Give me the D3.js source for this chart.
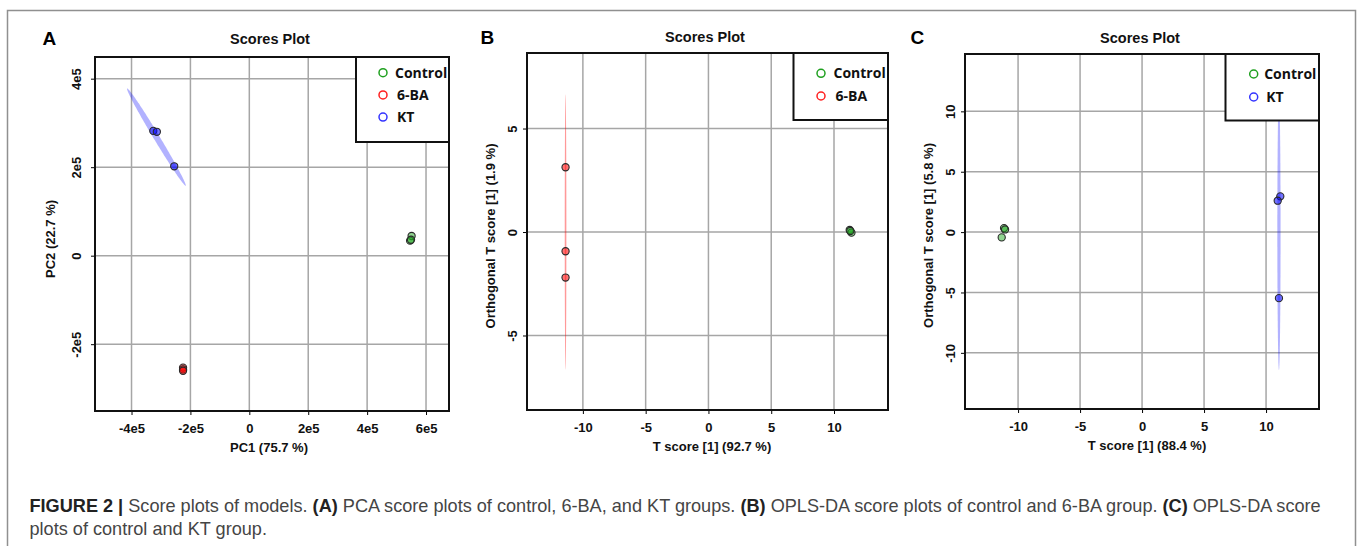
<!DOCTYPE html>
<html>
<head>
<meta charset="utf-8">
<script src="https://d3js.org/d3.v7.min.js"></script>
<style>
  html, body { margin: 0; padding: 0; background: #fff; }
  svg { display: block; }
</style>
</head>
<body>
<svg id="chart" width="1358" height="546"></svg>
<script>
// ---- data ----
const groupNames = ['Control', '6-BA', 'KT'];

// (A) PCA scores
const pcaPC1 = [5.51e5, 5.46e5, 5.49e5, -2.25e5, -2.25e5, -2.25e5, -3.26e5, -3.14e5, -2.55e5];
const pcaPC2 = [0.445e5, 0.34e5, 0.36e5, -2.53e5, -2.57e5, -2.60e5, 2.82e5, 2.80e5, 2.02e5];
const pcaGroup = ['Control', 'Control', 'Control', '6-BA', '6-BA', '6-BA', 'KT', 'KT', 'KT'];
const pcaXDomain = [-5.24e5, 6.78e5];
const pcaYDomain = [-3.51e5, 4.49e5];
const pcaXTicks = [-4e5, -2e5, 0, 2e5, 4e5, 6e5];
const pcaXTickLabels = ['-4e5', '-2e5', '0', '2e5', '4e5', '6e5'];
const pcaYTicks = [-2e5, 0, 2e5, 4e5];
const pcaYTickLabels = ['-2e5', '0', '2e5', '4e5'];
// KT confidence ellipse: centre, half major axis, half minor axis (data units)
const pcaKtEllipseCenter = [-3.155e5, 2.68e5];
const pcaKtEllipseMajor = [0.995e5, -1.1e5];
const pcaKtEllipseMinor = [8.7e3, 3.5e3];

// (B) OPLS-DA Control vs 6-BA
const baT = [11.25, 11.39, 11.3, -11.38, -11.38, -11.38];
const baOrtho = [0.1, -0.03, 0.05, 3.13, -0.93, -2.2];
const baGroup = ['Control', 'Control', 'Control', '6-BA', '6-BA', '6-BA'];
const baXDomain = [-14.45, 14.3];
const baYDomain = [-8.6, 8.65];
const baXTicks = [-10, -5, 0, 5, 10];
const baYTicks = [-5, 0, 5];
const baEllipseCenter = [-11.38, 0];
const baEllipseMajor = [0, 6.65];
const baEllipseMinor = [0.065, 0];

// (C) OPLS-DA Control vs KT
const ktT = [-11.13, -11.05, -11.32, 11.15, 10.94, 11.04];
const ktOrtho = [0.33, 0.22, -0.44, 2.96, 2.6, -5.47];
const ktGroup = ['Control', 'Control', 'Control', 'KT', 'KT', 'KT'];
const ktXDomain = [-14.28, 14.27];
const ktYDomain = [-14.65, 14.75];
const ktXTicks = [-10, -5, 0, 5, 10];
const ktYTicks = [-10, -5, 0, 5, 10];
const ktEllipseCenter = [11.04, 0.03];
const ktEllipseMajor = [0, 11.45];
const ktEllipseMinor = [0.13, 0];

// ---- styling ----
const legendColor = { 'Control': '#1fa01f', '6-BA': '#ff2020', 'KT': '#3434ff' };
const pointFill = { 'Control': 'rgba(34,170,34,0.5)', '6-BA': 'rgba(255,0,0,0.55)', 'KT': 'rgba(0,0,255,0.55)' };
const ellipseFill = { '6-BA': 'rgba(255,0,0,0.4)', 'KT': 'rgba(0,0,255,0.3)' };
const axisFont = '"Liberation Sans", Arial, sans-serif';
const legendFont = '"Open Sans", "Noto Sans", sans-serif';

const svg = d3.select('#chart');

// outer figure frame
svg.append('path')
  .attr('d', 'M7.5,546 V10.5 H1355.5 V546')
  .attr('fill', 'none')
  .attr('stroke', '#909090')
  .attr('stroke-width', 1.5);

function drawPanel(p) {
  const g = svg.append('g');
  const x = d3.scaleLinear().domain(p.xDomain).range([p.box.left, p.box.right]);
  const y = d3.scaleLinear().domain(p.yDomain).range([p.box.bottom, p.box.top]);
  const clipId = 'clip-' + p.letter;

  g.append('clipPath').attr('id', clipId)
    .append('rect')
    .attr('x', p.box.left).attr('y', p.box.top)
    .attr('width', p.box.right - p.box.left)
    .attr('height', p.box.bottom - p.box.top);

  // grid
  const grid = g.append('g').attr('clip-path', `url(#${clipId})`);
  grid.selectAll('line.gx').data(p.xTicks).join('line')
    .attr('x1', d => x(d)).attr('x2', d => x(d))
    .attr('y1', p.box.top).attr('y2', p.box.bottom)
    .attr('stroke', '#a6a6a6').attr('stroke-width', 1.5);
  grid.selectAll('line.gy').data(p.yTicks).join('line')
    .attr('y1', d => y(d)).attr('y2', d => y(d))
    .attr('x1', p.box.left).attr('x2', p.box.right)
    .attr('stroke', '#a6a6a6').attr('stroke-width', 1.5);

  // confidence ellipse
  const e = p.ellipse;
  const ring = d3.range(0, 2 * Math.PI, Math.PI / 90).map(t => [
    x(e.center[0] + e.major[0] * Math.cos(t) + e.minor[0] * Math.sin(t)),
    y(e.center[1] + e.major[1] * Math.cos(t) + e.minor[1] * Math.sin(t))
  ]);
  grid.append('path')
    .attr('d', d3.line().curve(d3.curveLinearClosed)(ring))
    .attr('fill', ellipseFill[e.group])
    .attr('stroke', 'none');

  // score points
  const pts = p.xs.map((v, i) => ({ x: v, y: p.ys[i], group: p.groups[i] }));
  grid.selectAll('circle.pt').data(pts).join('circle')
    .attr('cx', d => x(d.x)).attr('cy', d => y(d.y))
    .attr('r', 3.6)
    .attr('fill', d => pointFill[d.group])
    .attr('stroke', '#2a2a2a').attr('stroke-width', 1.1);

  // axes
  const xAxis = g.append('g')
    .attr('transform', `translate(0,${p.box.bottom})`)
    .call(d3.axisBottom(x).tickValues(p.xTicks).tickFormat((d, i) => p.xTickLabels[i]).tickSizeOuter(0).tickSize(4));
  xAxis.select('.domain').remove();
  xAxis.selectAll('text')
    .attr('y', p.xLabelOffset).attr('dy', 0)
    .attr('font-family', axisFont).attr('font-weight', 'bold').attr('font-size', 13).attr('fill', '#111');

  const yAxis = g.append('g')
    .attr('transform', `translate(${p.box.left},0)`)
    .call(d3.axisLeft(y).tickValues(p.yTicks).tickFormat((d, i) => p.yTickLabels[i]).tickSizeOuter(0).tickSize(4));
  yAxis.select('.domain').remove();
  yAxis.selectAll('text')
    .attr('transform', 'rotate(-90)')
    .attr('x', 0).attr('y', -p.yLabelOffset).attr('dy', 0)
    .attr('text-anchor', 'middle')
    .attr('font-family', axisFont).attr('font-weight', 'bold').attr('font-size', 13).attr('fill', '#111');

  // plot frame
  g.append('rect')
    .attr('x', p.box.left).attr('y', p.box.top)
    .attr('width', p.box.right - p.box.left)
    .attr('height', p.box.bottom - p.box.top)
    .attr('fill', 'none').attr('stroke', '#111').attr('stroke-width', 2);

  // titles
  g.append('text')
    .attr('x', p.titlePos[0]).attr('y', p.titlePos[1])
    .attr('text-anchor', 'middle')
    .attr('font-family', axisFont).attr('font-weight', 'bold').attr('font-size', 14.5)
    .attr('fill', '#111')
    .text('Scores Plot');
  g.append('text')
    .attr('x', p.letterPos[0]).attr('y', p.letterPos[1])
    .attr('font-family', axisFont).attr('font-weight', 'bold').attr('font-size', 19)
    .attr('fill', '#000')
    .text(p.letter);
  g.append('text')
    .attr('x', p.xTitlePos[0]).attr('y', p.xTitlePos[1])
    .attr('text-anchor', 'middle')
    .attr('font-family', axisFont).attr('font-weight', 'bold').attr('font-size', 13)
    .attr('fill', '#111')
    .text(p.xTitle);
  g.append('text')
    .attr('transform', `translate(${p.yTitlePos[0]},${p.yTitlePos[1]}) rotate(-90)`)
    .attr('text-anchor', 'middle')
    .attr('font-family', axisFont).attr('font-weight', 'bold').attr('font-size', 13)
    .attr('fill', '#111')
    .text(p.yTitle);

  // legend
  const lg = p.legend;
  g.append('rect')
    .attr('x', lg.left).attr('y', p.box.top)
    .attr('width', p.box.right - lg.left)
    .attr('height', lg.bottom - p.box.top)
    .attr('fill', '#fff').attr('stroke', '#111').attr('stroke-width', 2);
  const items = g.selectAll('g.leg').data(lg.names).join('g')
    .attr('transform', (d, i) => `translate(${lg.symbolX},${lg.firstY + i * lg.step})`);
  items.append('circle')
    .attr('r', 4).attr('fill', 'none')
    .attr('stroke', d => legendColor[d]).attr('stroke-width', 1.5);
  items.append('text')
    .attr('x', d => d === 'Control' ? lg.textDx : lg.textDx + 2)
    .attr('y', 5.1)
    .attr('font-family', legendFont).attr('font-weight', 'bold').attr('font-size', 14)
    .attr('fill', '#111')
    .text(d => d);
}

const numLabels = t => t.map(String);

drawPanel({
  letter: 'A',
  box: { left: 95, top: 57, right: 449, bottom: 411 },
  xDomain: pcaXDomain, yDomain: pcaYDomain,
  xTicks: pcaXTicks, xTickLabels: pcaXTickLabels,
  yTicks: pcaYTicks, yTickLabels: pcaYTickLabels,
  xs: pcaPC1, ys: pcaPC2, groups: pcaGroup,
  ellipse: { group: 'KT', center: pcaKtEllipseCenter, major: pcaKtEllipseMajor, minor: pcaKtEllipseMinor },
  xLabelOffset: 22, yLabelOffset: 14.5,
  titlePos: [270, 44], letterPos: [42.5, 45],
  xTitle: 'PC1 (75.7 %)', xTitlePos: [269, 452],
  yTitle: 'PC2 (22.7 %)', yTitlePos: [55, 239],
  legend: { left: 356, bottom: 142, symbolX: 383, firstY: 72.7, step: 22.2, textDx: 12, names: groupNames }
});

drawPanel({
  letter: 'B',
  box: { left: 527, top: 53, right: 888, bottom: 410 },
  xDomain: baXDomain, yDomain: baYDomain,
  xTicks: baXTicks, xTickLabels: numLabels(baXTicks),
  yTicks: baYTicks, yTickLabels: numLabels(baYTicks),
  xs: baT, ys: baOrtho, groups: baGroup,
  ellipse: { group: '6-BA', center: baEllipseCenter, major: baEllipseMajor, minor: baEllipseMinor },
  xLabelOffset: 21.5, yLabelOffset: 10,
  titlePos: [705, 42], letterPos: [480.5, 44],
  xTitle: 'T score [1] (92.7 %)', xTitlePos: [712, 451],
  yTitle: 'Orthogonal T score [1] (1.9 %)', yTitlePos: [494.5, 236],
  legend: { left: 793.5, bottom: 120, symbolX: 821, firstY: 73.3, step: 22.7, textDx: 12.5, names: ['Control', '6-BA'] }
});

drawPanel({
  letter: 'C',
  box: { left: 965, top: 54, right: 1319, bottom: 409 },
  xDomain: ktXDomain, yDomain: ktYDomain,
  xTicks: ktXTicks, xTickLabels: numLabels(ktXTicks),
  yTicks: ktYTicks, yTickLabels: numLabels(ktYTicks),
  xs: ktT, ys: ktOrtho, groups: ktGroup,
  ellipse: { group: 'KT', center: ktEllipseCenter, major: ktEllipseMajor, minor: ktEllipseMinor },
  xLabelOffset: 21.5, yLabelOffset: 10.5,
  titlePos: [1140, 43], letterPos: [910.5, 44.3],
  xTitle: 'T score [1] (88.4 %)', xTitlePos: [1147, 449.5],
  yTitle: 'Orthogonal T score [1] (5.8 %)', yTitlePos: [933, 235.5],
  legend: { left: 1225.5, bottom: 120.5, symbolX: 1253.7, firstY: 74, step: 23, textDx: 10.5, names: ['Control', 'KT'] }
});

// ---- caption ----
const captionLines = [
  [['FIGURE 2 | ', true], ['Score plots of models. ', false], ['(A)', true], [' PCA score plots of control, 6-BA, and KT groups. ', false],
   ['(B)', true], [' OPLS-DA score plots of control and 6-BA group. ', false], ['(C)', true], [' OPLS-DA score', false]],
  [['plots of control and KT group.', false]]
];
const captionFont = '"Liberation Sans", Arial, sans-serif';
const capTexts = captionLines.map((line, li) => {
  const t = svg.append('text')
    .attr('x', 29.5).attr('y', 512 + li * 23.3)
    .attr('font-family', captionFont).attr('font-size', 17);
  line.forEach(([s, bold]) => {
    t.append('tspan')
      .attr('font-weight', bold ? 'bold' : 'normal')
      .attr('fill', bold ? '#222' : '#454545')
      .text(s);
  });
  return t;
});
// fit first caption line to the measured width in the figure
const w0 = capTexts[0].node().getComputedTextLength();
const fitSize = 17 * 1292 / w0;
capTexts.forEach(t => t.attr('font-size', fitSize));
</script>
</body>
</html>
